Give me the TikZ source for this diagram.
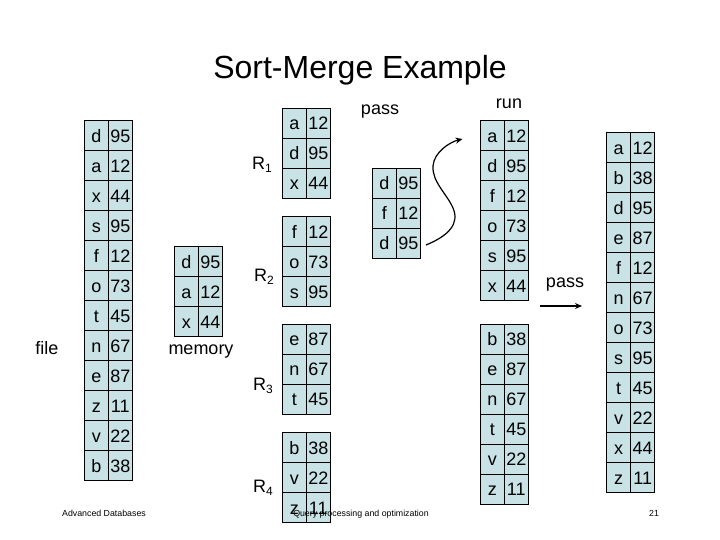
\documentclass[tikz,border=0pt]{standalone}
\usepackage{fontspec}
\setmainfont{Liberation Sans}
\usetikzlibrary{arrows.meta}
\definecolor{cellfill}{RGB}{200,226,230}
\newcommand\sortcol[4]{%
  \foreach \l/\n [count=\i] in {#4} {%
    \node[cell] (#1\i l) at ({#2+12},{#3+30*\i-15}) {\l};
    \node[cell] (#1\i n) at ({#2+36},{#3+30*\i-15}) {\n};
  }}
\newcommand\lowsub[1]{\raisebox{-3pt}{\fontsize{12}{12}\selectfont #1}}
\begin{document}
\begin{tikzpicture}[x=1pt,y=-1pt,
  cell/.style={draw=black, line width=0.8pt, fill=cellfill, minimum width=24pt,
    minimum height=30pt, inner sep=0pt, outer sep=0pt, text height=13pt, text depth=0pt,
    font=\fontsize{18}{18}\selectfont},
  lbl/.style={font=\fontsize{18}{20}\selectfont, inner sep=0pt},
  foot/.style={font=\fontsize{8.8}{10}\selectfont, inner sep=0pt, anchor=base},
  conn/.style={line width=1.2pt, -{Stealth[length=7pt,width=6pt]}}]
\fill[white] (0,0) rectangle (720,540);
\useasboundingbox (0,0) rectangle (720,540);
\node[inner sep=0pt, font=\fontsize{32}{34}\selectfont] (title) at (360,70) {Sort-Merge Example};
% file
\sortcol{f}{84.3}{120.7}{d/95,a/12,x/44,s/95,f/12,o/73,t/45,n/67,e/87,z/11,v/22,b/38}
\node[lbl] (filelbl) at (47,348) {file};
% memory
\sortcol{m}{174.3}{246.7}{d/95,a/12,x/44}
\node[lbl] (memlbl) at (201,352) {memory};
% runs R1..R4
\sortcol{ra}{282.3}{108.3}{a/12,d/95,x/44}
\sortcol{rb}{282.3}{216.7}{f/12,o/73,s/95}
\sortcol{rc}{282.3}{324.3}{e/87,n/67,t/45}
\sortcol{rd}{282.3}{432.7}{b/38,v/22,z/11}
\node[lbl] (R1) at (262,165) {R\lowsub{1}};
\node[lbl] (R2) at (264,277) {R\lowsub{2}};
\node[lbl] (R3) at (263,386) {R\lowsub{3}};
\node[lbl] (R4) at (263,488) {R\lowsub{4}};
% pass buffer
\sortcol{p}{372.3}{168.3}{d/95,f/12,d/95}
\node[lbl] (passlbl) at (380,112) {pass};
% run outputs
\sortcol{u}{480.3}{120.7}{a/12,d/95,f/12,o/73,s/95,x/44}
\sortcol{v}{480.3}{324.3}{b/38,e/87,n/67,t/45,v/22,z/11}
\node[lbl] (runlbl) at (509,104) {run};
% final
\sortcol{w}{606.7}{132.7}{a/12,b/38,d/95,e/87,f/12,n/67,o/73,s/95,t/45,v/22,x/44,z/11}
\node[lbl] (pass2lbl) at (565,285) {pass};
% connectors
\coordinate (cs) at (426,245);
\coordinate (ce) at (462.5,139);
\draw[conn] (cs) .. controls (448,236) and (460,224) .. (453,208)
  .. controls (447,194) and (432,182) .. (433,166)
  .. controls (434,152) and (450,142) .. (ce);
\coordinate (as) at (540,306);
\coordinate (ae) at (582,306);
\draw[conn] (as) -- (ae);
% footer
\node[foot] (ft1) at (104,516) {Advanced Databases};
\node[foot] (ft2) at (361,516) {Query processing and optimization};
\node[foot] (ft3) at (654,516) {21};
\end{tikzpicture}
\end{document}
